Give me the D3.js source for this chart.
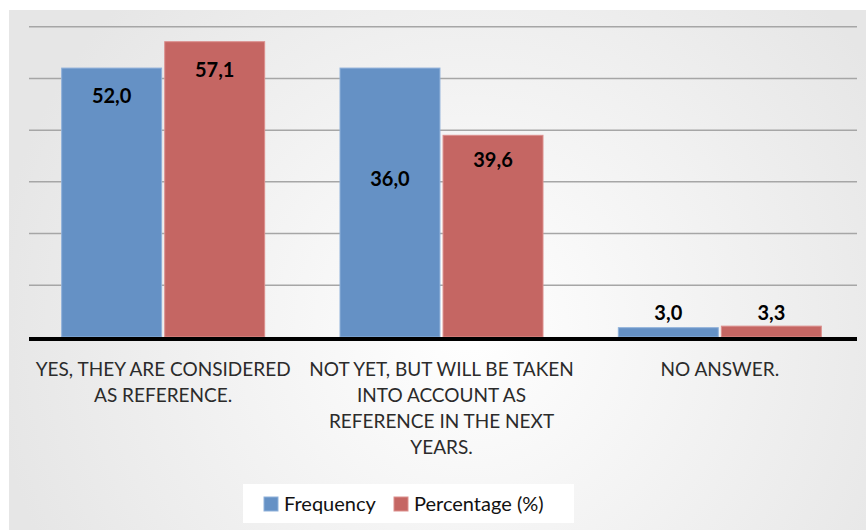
<!DOCTYPE html>
<html>
<head>
<meta charset="utf-8">
<script src="https://cdn.jsdelivr.net/npm/d3@7"></script>
<style>
  body { margin: 0; background: #fff; }
  svg { display: block; font-family: Lato, "Open Sans", sans-serif; }
</style>
</head>
<body>
<div class="bar-chart"></div>
<script>
const categories = [
  ['YES, THEY ARE CONSIDERED', 'AS REFERENCE.'],
  ['NOT YET, BUT WILL BE TAKEN', 'INTO ACCOUNT AS', 'REFERENCE IN THE NEXT', 'YEARS.'],
  ['NO ANSWER.']
];
const seriesNames = ['Frequency', 'Percentage (%)'];

// values printed on the bars
const frequency = [52.0, 36.0, 3.0];
const percentage = [57.1, 39.6, 3.3];

// bar heights as drawn in the picture (they do not all match the printed values)
const frequencyBars = [52.0, 52.0, 1.8];
const percentageBars = [57.1, 39.0, 2.1];

const yTicks = [0, 10, 20, 30, 40, 50, 60];

const colors = ['#6591c5', '#c56663'];
const strokes = ['#8fb1da', '#dc8f8d'];

const width = 866,
      height = 530;

const svg = d3.select('.bar-chart')
              .append('svg')
              .attr('width', width)
              .attr('height', height);

const defs = svg.append('defs');
const grad = defs.append('radialGradient')
                 .attr('id', 'bg')
                 .attr('gradientUnits', 'userSpaceOnUse')
                 .attr('cx', 470).attr('cy', 330).attr('r', 480);
grad.append('stop').attr('offset', '0%').attr('stop-color', '#ffffff');
grad.append('stop').attr('offset', '100%').attr('stop-color', '#e6e6e6');

svg.append('rect')
   .attr('x', 9).attr('y', 10)
   .attr('width', width - 9).attr('height', height - 10)
   .attr('fill', 'url(#bg)');

const yScale = d3.scaleLinear()
                 .domain([0, 60])
                 .range([337, 26.7]);

const x0 = d3.scaleBand()
             .domain(d3.range(categories.length))
             .range([24, 859]);

const x1 = d3.scaleBand()
             .domain([0, 1])
             .range([-101.5, 101.5])
             .paddingInner(0.03);

// gridlines
svg.selectAll('line.grid')
   .data(yTicks.slice(1))
   .enter()
   .append('line')
   .attr('class', 'grid')
   .attr('x1', 29)
   .attr('x2', 857)
   .attr('y1', d => yScale(d))
   .attr('y2', d => yScale(d))
   .attr('stroke', '#a6a6a6')
   .attr('stroke-width', 1.5);

const barData = [];
categories.forEach((c, i) => {
  barData.push({cat: i, s: 0, bar: frequencyBars[i], val: frequency[i]});
  barData.push({cat: i, s: 1, bar: percentageBars[i], val: percentage[i]});
});

const bx = d => x0(d.cat) + x0.bandwidth() / 2 + x1(d.s);

svg.selectAll('rect.bar')
   .data(barData)
   .enter()
   .append('rect')
   .attr('class', 'bar')
   .attr('x', bx)
   .attr('y', d => yScale(d.bar))
   .attr('width', x1.bandwidth())
   .attr('height', d => yScale(0) - yScale(d.bar))
   .attr('fill', d => colors[d.s])
   .attr('stroke', d => strokes[d.s])
   .attr('stroke-width', 1);

// axis line
svg.append('line')
   .attr('x1', 29).attr('x2', 857)
   .attr('y1', yScale(0) + 2).attr('y2', yScale(0) + 2)
   .attr('stroke', '#000')
   .attr('stroke-width', 4);

const fmt = v => d3.format('.1f')(v).replace('.', ',');

svg.selectAll('text.val')
   .data(barData)
   .enter()
   .append('text')
   .attr('class', 'val')
   .attr('x', d => bx(d) + x1.bandwidth() / 2)
   .attr('y', d => d.val < 10 ? Math.min(yScale(d.val), yScale(0) - 17) : yScale(d.val) + 35)
   .attr('text-anchor', 'middle')
   .attr('font-size', 20)
   .attr('font-weight', 'bold')
   .attr('fill', '#000')
   .text(d => fmt(d.val));

// category labels
const catG = svg.selectAll('g.cat')
                .data(categories)
                .enter()
                .append('g')
                .attr('class', 'cat')
                .attr('transform', (d, i) => `translate(${x0(i) + x0.bandwidth() / 2},376)`);

catG.selectAll('text')
    .data(d => d)
    .enter()
    .append('text')
    .attr('y', (d, i) => i * 26)
    .attr('text-anchor', 'middle')
    .attr('font-size', 19)
    .attr('fill', '#2b2b2b')
    .text(d => d);

// legend
const legend = svg.append('g');
legend.append('rect')
      .attr('x', 243).attr('y', 484)
      .attr('width', 331).attr('height', 39)
      .attr('fill', '#fff');

const legendX = [264, 394];
const item = legend.selectAll('g.item')
                   .data(seriesNames)
                   .enter()
                   .append('g')
                   .attr('transform', (d, i) => `translate(${legendX[i]},497)`);

item.append('rect')
    .attr('width', 14).attr('height', 14)
    .attr('fill', (d, i) => colors[i])
    .attr('stroke', (d, i) => strokes[i]);

item.append('text')
    .attr('x', 20).attr('y', 14)
    .attr('font-size', 20)
    .attr('fill', '#111')
    .text(d => d);
</script>
</body>
</html>
